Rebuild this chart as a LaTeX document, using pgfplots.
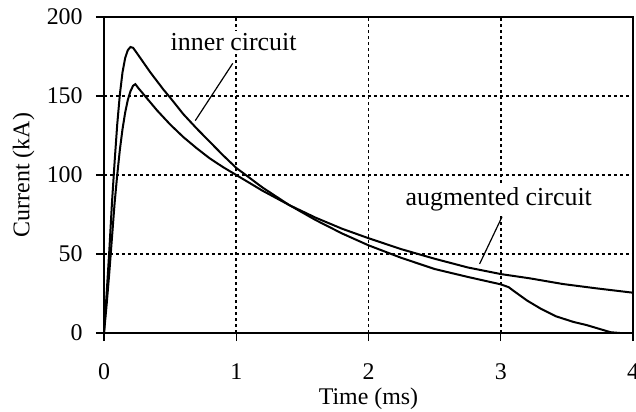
\documentclass[12pt,border=0pt]{standalone}
\usepackage{fontspec}
\setmainfont{Liberation Serif}
\usepackage{pgfplots}
\pgfplotsset{compat=1.18}

\begin{document}
\begin{tikzpicture}
\begin{axis}[
  name=ax,
  scale only axis,
  width=264.5bp, height=158bp,
  xmin=0, xmax=4, ymin=0, ymax=200,
  xtick={0,1,2,3,4}, ytick={0,50,100,150,200},
  xtick pos=bottom, ytick pos=left,
  tick align=outside,
  major tick length=4bp,
  tick style={black, line width=0.6bp},
  axis line style={black, line width=0.8bp},
  grid=major,
  grid style={black, line width=0.8bp, dash pattern=on 1.5bp off 1.5bp},
  xlabel={Time (ms)},
  ylabel={Current (kA)},
  /pgf/number format/assume math mode=true,
  every tick label/.append style={font=\fontsize{12}{14}\selectfont},
  xticklabel style={yshift=-7bp},
  yticklabel style={xshift=-2.5bp},
  label style={font=\fontsize{12}{14}\selectfont},
  xlabel style={yshift=4bp},
  ylabel style={yshift=-2bp},
]
% inner circuit
\addplot[black, line width=1bp] coordinates {
 (0,0) (0.02,25) (0.04,52) (0.06,82) (0.08,108) (0.10,132) (0.12,151)
 (0.14,165) (0.16,174) (0.18,179) (0.20,181) (0.22,180.5) (0.25,177)
 (0.3,171) (0.35,165) (0.4,159.5) (0.45,154) (0.5,149) (0.6,138.5)
 (0.7,129.5) (0.8,121) (0.9,112.5) (1.0,104.5) (1.2,92) (1.4,81)
 (1.6,71.5) (1.8,63) (2.0,55.5) (2.25,47.5) (2.5,40.5) (2.75,35.5)
 (3.0,30.8) (3.06,29) (3.1,26.5) (3.2,20.5) (3.3,15.5) (3.42,10.5)
 (3.55,7) (3.65,5) (3.75,2.5) (3.83,0.5) (3.9,0) (4.0,0)
};
% augmented circuit
\addplot[black, line width=1bp] coordinates {
 (0,0) (0.02,18) (0.04,38) (0.06,60) (0.08,82) (0.10,100) (0.12,116)
 (0.14,129) (0.16,139.5) (0.18,147.5) (0.20,153) (0.22,156.5) (0.237,157.5)
 (0.26,155) (0.3,151) (0.35,146) (0.4,141) (0.5,132) (0.6,124) (0.7,117)
 (0.8,110.5) (0.9,105) (1.0,100) (1.2,90) (1.4,81) (1.6,73) (1.8,66)
 (2.0,60) (2.25,53) (2.5,47) (2.75,41.5) (3.0,37.3) (3.22,34.6)
 (3.47,31) (3.72,28.3) (4.0,25.5)
};
\draw[black, line width=0.6bp] (axis cs:0.974,170.7) -- (axis cs:0.69,134.4);
\draw[black, line width=0.6bp] (axis cs:3.01,73.6) -- (axis cs:2.84,43.7);
\node[anchor=base, font=\fontsize{13}{15}\selectfont, fill=white, inner sep=1.5bp] at (axis cs:0.98,178.7) {inner circuit};
\node[anchor=base, font=\fontsize{13}{15}\selectfont, fill=white, inner sep=1.5bp] at (axis cs:2.985,80.4) {augmented circuit};
\end{axis}
\pgfresetboundingbox
\path ([xshift=-52bp,yshift=-39.5bp]ax.south west) rectangle ([xshift=1.5bp,yshift=8.5bp]ax.north east);
\end{tikzpicture}
\end{document}
